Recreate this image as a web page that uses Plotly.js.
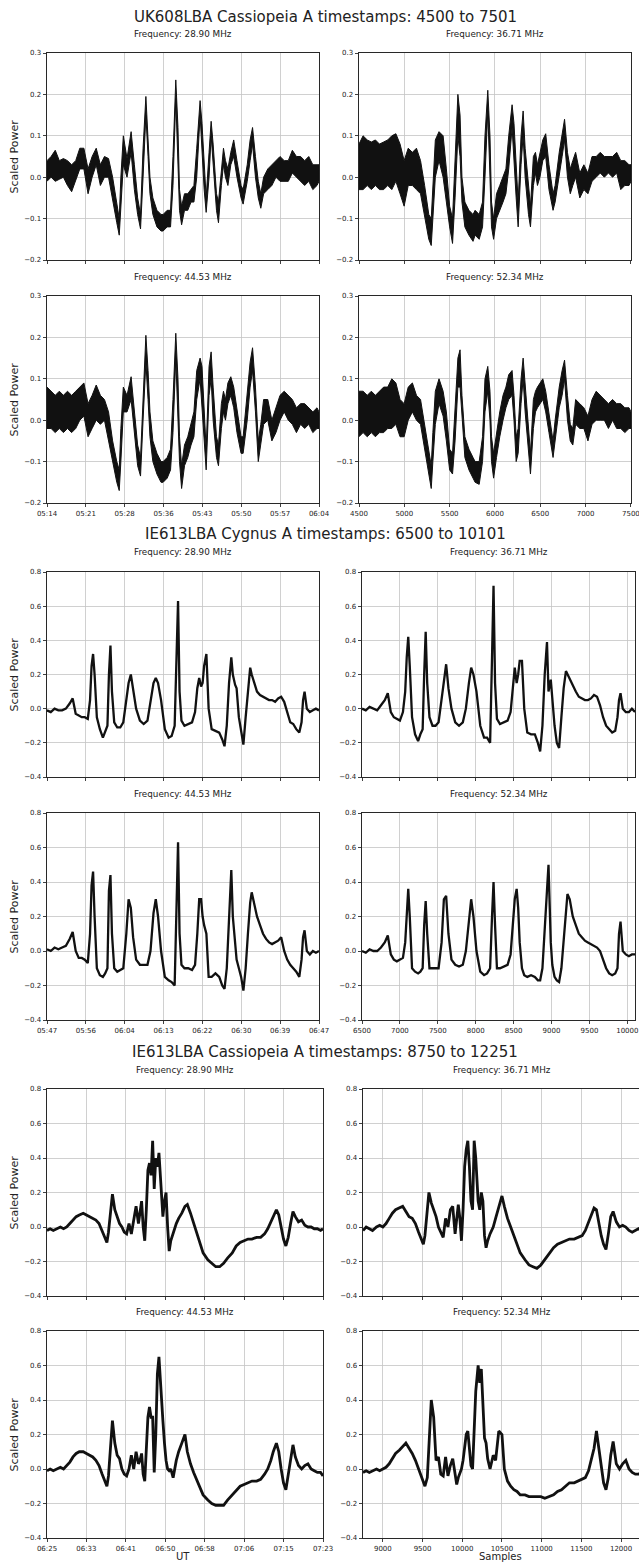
<!DOCTYPE html>
<html><head><meta charset="utf-8">
<script src="https://cdn.plot.ly/plotly-3.0.1.min.js"></script>
<style>html,body{margin:0;padding:0;background:#fff;}#chart{width:639px;height:1562px;}</style>
</head><body><div id="chart"></div>
<script>
// ---------------- DATA ----------------
// Group 1: UK608LBA Cassiopeia A, samples 4500..7501 (noise band: low / high envelope)
const g1_x = [
4500,4545,4591,4636,4681,4726,4772,4817,4862,4907,
4953,4998,5043,5089,5134,5179,5224,5270,5297,5315,
5342,5383,5428,5464,5500,5532,5560,5591,5615,5636,
5668,5713,5758,5781,5826,5863,5890,5921,5945,5962,
5985,6017,6053,6089,6121,6152,6189,6210,6234,6256,
6288,6311,6333,6370,6392,6424,6447,6469,6496,6528,
6560,6596,6641,6664,6709,6741,6768,6800,6831,6859,
6890,6936,6981,7026,7071,7117,7162,7207,7252,7298,
7343,7388,7433,7479,7501];
const g1_f2890_lo = [
-0.01,0,-0.01,-0.005,0,-0.02,-0.035,-0.01,0.02,0.02,
-0.04,0,0.03,-0.02,0,0,-0.05,-0.11,-0.14,-0.06,
0.03,0,0.06,-0.03,-0.09,-0.125,0,0.15,0.05,-0.04,
-0.09,-0.12,-0.13,-0.13,-0.12,-0.12,-0.02,0.19,0.05,-0.08,
-0.115,-0.08,-0.08,-0.06,-0.06,0,0.15,0.08,-0.03,-0.085,
0,0.1,0.02,-0.08,-0.11,-0.02,0.03,0,-0.02,0.03,
0.05,0,-0.05,-0.065,-0.01,0.04,0.08,0,-0.05,-0.075,
-0.04,-0.03,-0.02,0,-0.01,-0.01,-0.01,0.01,0,-0.01,
-0.02,-0.01,-0.03,-0.02,-0.01];
const g1_f2890_hi = [
0.04,0.05,0.065,0.04,0.045,0.04,0.03,0.04,0.07,0.07,
0.02,0.05,0.07,0.03,0.05,0.045,0,-0.07,-0.1,0,
0.1,0.045,0.11,0.03,-0.05,-0.09,0.07,0.195,0.1,0,
-0.05,-0.08,-0.09,-0.09,-0.08,-0.08,0.05,0.235,0.12,-0.03,
-0.07,-0.04,-0.04,-0.03,-0.02,0.07,0.185,0.13,0.02,-0.05,
0.06,0.135,0.08,-0.04,-0.06,0.02,0.07,0.04,0.02,0.06,
0.09,0.04,-0.02,-0.03,0.03,0.09,0.12,0.05,-0.01,-0.04,
0,0.02,0.03,0.04,0.05,0.04,0.04,0.065,0.05,0.05,
0.04,0.05,0.03,0.03,0.03];
const g1_f3671_lo = [
-0.03,-0.03,-0.02,-0.03,-0.02,-0.03,-0.03,-0.02,-0.03,-0.01,
-0.04,-0.07,-0.02,-0.02,-0.03,-0.04,-0.09,-0.15,-0.165,-0.1,
0,0.04,0,-0.06,-0.12,-0.16,-0.05,0.1,0.05,-0.06,
-0.12,-0.14,-0.155,-0.14,-0.15,-0.12,0,0.16,0,-0.12,
-0.15,-0.1,-0.08,-0.06,-0.04,0.02,0.12,0.06,-0.05,-0.12,
0.03,0.1,0,-0.09,-0.12,-0.02,0.01,-0.02,0,0.04,
0.05,-0.03,-0.08,-0.06,0,0.05,0.09,0,-0.04,-0.02,
0,-0.05,-0.03,-0.04,-0.01,0,0.01,0,0.01,0,
0.01,-0.03,-0.02,-0.02,-0.01];
const g1_f3671_hi = [
0.08,0.1,0.09,0.085,0.09,0.08,0.085,0.09,0.1,0.105,
0.08,0.04,0.07,0.06,0.07,0.04,-0.02,-0.09,-0.1,-0.03,
0.09,0.11,0.1,0.02,-0.07,-0.1,0.05,0.2,0.15,0,
-0.06,-0.08,-0.09,-0.08,-0.09,-0.06,0.1,0.21,0.1,-0.06,
-0.1,-0.04,-0.02,0,0.02,0.1,0.175,0.13,0.03,-0.06,
0.1,0.16,0.07,-0.03,-0.07,0.05,0.06,0.03,0.06,0.09,
0.105,0.03,-0.04,-0.02,0.06,0.11,0.14,0.06,0.02,0.04,
0.06,0.01,0.03,0.01,0.05,0.05,0.06,0.05,0.05,0.05,
0.06,0.04,0.04,0.03,0.03];
const g1_f4453_lo = [
-0.02,-0.02,-0.03,-0.02,-0.03,-0.02,-0.03,-0.02,0,0.01,
-0.04,-0.02,0,-0.01,0,-0.05,-0.1,-0.15,-0.17,-0.1,
0.02,0.02,0.05,-0.03,-0.11,-0.135,0,0.14,0.05,-0.04,
-0.1,-0.13,-0.15,-0.15,-0.14,-0.12,-0.03,0.15,0,-0.1,
-0.165,-0.11,-0.09,-0.06,-0.04,0.05,0.1,0.05,-0.05,-0.12,
0.06,0.1,0,-0.09,-0.11,-0.02,0.02,0,0.04,0.06,
0.03,-0.03,-0.08,-0.08,0,0.08,0.12,0.02,-0.1,-0.06,
-0.01,0,-0.05,-0.03,0,0.02,0,-0.01,-0.03,-0.01,
-0.02,-0.01,-0.03,-0.02,-0.02];
const g1_f4453_hi = [
0.08,0.07,0.06,0.07,0.06,0.07,0.06,0.07,0.08,0.09,
0.04,0.06,0.085,0.06,0.05,0.02,-0.05,-0.1,-0.12,-0.02,
0.08,0.06,0.105,0.03,-0.06,-0.09,0.07,0.205,0.12,0.02,
-0.05,-0.08,-0.1,-0.1,-0.09,-0.07,0.05,0.21,0.1,-0.04,
-0.11,-0.06,-0.04,-0.01,0.02,0.12,0.15,0.13,0.03,-0.07,
0.13,0.165,0.08,-0.04,-0.06,0.04,0.07,0.05,0.09,0.105,
0.08,0.03,-0.04,-0.04,0.07,0.14,0.175,0.08,-0.05,-0.01,
0.05,0.05,0,0.03,0.06,0.07,0.06,0.05,0.03,0.04,
0.04,0.03,0.02,0.03,0.02];
const g1_f5234_lo = [
-0.04,-0.03,-0.04,-0.03,-0.04,-0.03,-0.03,-0.02,-0.02,-0.01,
-0.04,-0.04,0,0.02,0,-0.01,-0.07,-0.13,-0.165,-0.1,
-0.01,0.04,0.01,-0.05,-0.12,-0.13,-0.05,0.08,0.08,0,
-0.09,-0.12,-0.14,-0.15,-0.155,-0.1,0.02,0.07,0,-0.1,
-0.14,-0.09,-0.04,0,0.03,0.05,0.06,0,-0.1,-0.08,
0.04,0.1,0.02,-0.08,-0.13,-0.02,0.02,0.03,0.04,0.05,
0.02,-0.03,-0.09,-0.05,0.03,0.06,0.1,0,-0.05,-0.06,
-0.01,-0.02,-0.02,-0.05,-0.01,0,0,0,-0.02,0,
-0.02,-0.02,-0.03,-0.02,-0.02];
const g1_f5234_hi = [
0.07,0.07,0.06,0.07,0.06,0.07,0.08,0.08,0.1,0.09,
0.05,0.04,0.08,0.09,0.06,0.05,-0.01,-0.07,-0.11,-0.03,
0.07,0.1,0.07,0.02,-0.07,-0.08,0.03,0.15,0.17,0.06,
-0.04,-0.07,-0.09,-0.1,-0.1,-0.04,0.1,0.13,0.07,-0.04,
-0.08,-0.03,0.02,0.06,0.08,0.11,0.12,0.06,-0.04,-0.02,
0.1,0.15,0.09,-0.02,-0.08,0.05,0.07,0.08,0.09,0.1,
0.07,0.02,-0.05,0,0.08,0.12,0.145,0.06,-0.01,-0.02,
0.05,0.04,0.03,0.01,0.05,0.07,0.06,0.05,0.04,0.05,
0.04,0.04,0.03,0.03,0.02];

// Group 2: IE613LBA Cygnus A, samples 6500..10101
const g2_x = [
6500,6550,6600,6650,6700,6750,6800,6840,6880,6920,
6960,7000,7040,7070,7090,7110,7130,7160,7200,7240,
7270,7300,7320,7340,7360,7390,7430,7470,7510,7550,
7580,7610,7640,7680,7730,7780,7830,7870,7910,7940,
7970,8010,8060,8110,8150,8190,8215,8235,8255,8280,
8320,8370,8420,8460,8490,8515,8540,8560,8580,8610,
8640,8680,8730,8780,8820,8850,8880,8910,8940,8960,
8990,9010,9040,9070,9100,9130,9160,9190,9210,9240,
9280,9320,9360,9400,9440,9480,9520,9560,9600,9640,
9680,9720,9760,9800,9840,9870,9890,9910,9940,9980,
10020,10060,10101];
const g2_f2890 = [
-0.01,-0.02,0,-0.01,-0.01,0,0.03,0.06,-0.03,-0.04,
-0.05,-0.05,-0.06,0.05,0.25,0.32,0.2,-0.05,-0.12,-0.17,
-0.13,-0.1,0.2,0.37,0.1,-0.08,-0.11,-0.11,-0.08,0.05,
0.15,0.2,0.1,0,-0.07,-0.09,-0.07,0.03,0.15,0.18,
0.15,0.05,-0.12,-0.17,-0.16,-0.1,0.35,0.63,0.1,-0.07,
-0.1,-0.09,-0.08,-0.02,0.12,0.18,0.13,0.15,0.25,0.32,
0,-0.12,-0.13,-0.14,-0.18,-0.22,-0.1,0.15,0.3,0.2,
0.14,0.12,-0.05,-0.12,-0.21,-0.05,0.1,0.24,0.2,0.15,
0.1,0.08,0.07,0.06,0.05,0.05,0.04,0.06,0.07,0.04,
-0.02,-0.08,-0.09,-0.12,-0.14,-0.08,0.05,0.1,0,-0.02,
-0.01,0,-0.01];
const g2_f3671 = [
0,-0.01,0.01,0,-0.01,0.02,0.05,0.09,-0.02,-0.05,
-0.06,-0.07,-0.02,0.1,0.3,0.42,0.25,-0.05,-0.15,-0.19,
-0.15,-0.12,0.2,0.45,0.15,-0.05,-0.1,-0.1,-0.08,0.05,
0.18,0.26,0.12,0,-0.08,-0.1,-0.08,0,0.15,0.24,
0.2,0.1,-0.1,-0.17,-0.17,-0.2,0.3,0.72,0.15,-0.06,
-0.09,-0.08,-0.07,-0.02,0.12,0.24,0.15,0.2,0.28,0.28,
0,-0.14,-0.15,-0.15,-0.2,-0.25,-0.1,0.2,0.39,0.1,
0.17,0.05,-0.1,-0.2,-0.23,-0.05,0.12,0.22,0.2,0.18,
0.13,0.1,0.07,0.06,0.05,0.05,0.06,0.08,0.07,0.02,
-0.05,-0.1,-0.12,-0.14,-0.13,-0.05,0.05,0.09,0,-0.02,
-0.02,0,-0.02];
const g2_f4453 = [
0.01,0,0.02,0.01,0.02,0.03,0.07,0.11,0,-0.04,
-0.04,-0.05,-0.07,0.1,0.38,0.46,0.2,-0.1,-0.14,-0.15,
-0.13,-0.1,0.35,0.44,0.1,-0.1,-0.12,-0.11,-0.1,0.1,
0.3,0.25,0.08,-0.05,-0.08,-0.08,-0.08,0,0.22,0.3,
0.2,0,-0.15,-0.17,-0.18,-0.2,0.3,0.63,0.1,-0.08,
-0.1,-0.1,-0.11,-0.08,0.1,0.3,0.3,0.2,0.15,0.1,
-0.15,-0.15,-0.13,-0.15,-0.2,-0.22,-0.1,0.2,0.47,0.2,
0.05,-0.05,-0.1,-0.15,-0.23,-0.1,0.1,0.28,0.34,0.28,
0.2,0.15,0.1,0.07,0.05,0.04,0.05,0.06,0.08,0,
-0.05,-0.08,-0.1,-0.12,-0.15,-0.05,0.08,0.12,0,-0.02,
0,-0.01,0];
const g2_f5234 = [
0,-0.01,0.01,0,0,0.02,0.05,0.09,-0.02,-0.05,
-0.06,-0.05,-0.04,0.05,0.25,0.36,0.2,-0.1,-0.12,-0.13,
-0.12,-0.1,0.15,0.29,0.1,-0.1,-0.1,-0.1,-0.1,0.05,
0.3,0.32,0.1,-0.05,-0.08,-0.09,-0.08,0,0.2,0.3,
0.2,0,-0.12,-0.14,-0.13,-0.1,0.2,0.4,0.15,-0.1,
-0.1,-0.09,-0.08,-0.02,0.15,0.3,0.36,0.25,0.05,-0.1,
-0.14,-0.15,-0.14,-0.15,-0.17,-0.17,-0.1,0.1,0.35,0.5,
0.05,-0.08,-0.15,-0.17,-0.18,-0.1,0.05,0.25,0.33,0.3,
0.2,0.15,0.1,0.08,0.06,0.05,0.04,0.03,0.02,0,
-0.05,-0.1,-0.13,-0.14,-0.13,-0.1,0.1,0.17,0,-0.02,
-0.03,-0.02,-0.02];

// Group 3: IE613LBA Cassiopeia A, samples 8750..12251
const g3_x = [
8750,8790,8830,8870,8920,8960,9000,9040,9080,9120,
9160,9210,9250,9290,9330,9370,9410,9450,9480,9510,
9530,9560,9580,9610,9640,9670,9700,9730,9760,9790,
9820,9850,9880,9910,9930,9950,9970,9990,10010,10030,
10050,10070,10090,10110,10130,10150,10170,10200,10220,10240,
10260,10280,10300,10320,10350,10390,10420,10460,10500,10530,
10570,10610,10650,10690,10730,10790,10840,10890,10940,10990,
11040,11100,11150,11200,11250,11300,11350,11410,11460,11510,
11550,11590,11620,11660,11690,11720,11750,11780,11810,11840,
11870,11900,11940,11980,12020,12060,12100,12140,12180,12220,
12251];
const g3_f2890 = [
-0.02,-0.01,-0.02,-0.01,0,-0.01,0,0.02,0.04,0.06,
0.07,0.08,0.07,0.06,0.05,0.04,0.02,-0.02,-0.05,-0.09,
-0.03,0.1,0.19,0.1,0.06,0.02,0,-0.03,-0.04,0.02,
-0.04,0.05,0.12,0.02,0.08,0.15,0,-0.08,0.1,0.33,
0.37,0.3,0.5,0.22,0.4,0.35,0.43,0.2,0.06,0.15,
0.2,0,-0.14,-0.08,-0.03,0.02,0.05,0.08,0.12,0.13,
0.08,0.02,-0.04,-0.1,-0.15,-0.19,-0.21,-0.23,-0.23,-0.21,
-0.18,-0.15,-0.11,-0.09,-0.08,-0.07,-0.07,-0.06,-0.06,-0.04,
-0.01,0.03,0.07,0.1,0.07,0,-0.07,-0.11,-0.06,0.02,
0.09,0.06,0.03,0.04,0.01,0,0,-0.01,-0.01,-0.02,
-0.01];
const g3_f3671 = [
-0.02,0,-0.01,-0.02,0,0.01,0,0.02,0.05,0.08,
0.1,0.11,0.12,0.09,0.06,0.05,0.02,-0.03,-0.06,-0.1,
-0.05,0.1,0.2,0.14,0.1,0.06,0,-0.03,-0.06,0.05,
0,0.1,0.12,-0.04,0.05,0.13,0.05,-0.08,0.1,0.35,
0.45,0.5,0.35,0.15,0.1,0.5,0.4,0.15,0.1,0.2,
0.15,-0.05,-0.12,-0.08,-0.04,0,0.05,0.12,0.18,0.12,
0.05,0,-0.05,-0.1,-0.15,-0.19,-0.22,-0.23,-0.24,-0.22,
-0.19,-0.15,-0.12,-0.1,-0.09,-0.08,-0.07,-0.07,-0.06,-0.05,
-0.02,0.03,0.07,0.11,0.1,0.02,-0.05,-0.1,-0.13,-0.04,
0.06,0.09,0.03,0,0.01,0,-0.02,-0.03,-0.02,-0.01,
-0.02];
const g3_f4453 = [
-0.01,0,-0.01,0,0.01,0,0.02,0.04,0.07,0.09,
0.1,0.1,0.09,0.08,0.07,0.05,0.02,-0.03,-0.07,-0.1,
-0.04,0.15,0.28,0.15,0.08,0.06,0,-0.03,-0.04,0,
0.08,0,0.1,0.03,0.05,0.09,-0.03,-0.07,0.15,0.3,
0.36,0.3,0.3,-0.02,0.2,0.55,0.65,0.4,0.28,0.15,
0.05,0,-0.01,0,-0.05,0.05,0.1,0.15,0.2,0.1,
0.03,-0.02,-0.06,-0.1,-0.15,-0.18,-0.2,-0.21,-0.21,-0.21,
-0.18,-0.15,-0.12,-0.1,-0.09,-0.08,-0.07,-0.07,-0.06,-0.03,
0,0.05,0.1,0.15,0.1,0,-0.08,-0.12,-0.04,0.05,
0.14,0.07,0.02,0,0.02,0.03,0,-0.01,-0.02,-0.02,
-0.04];
const g3_f5234 = [
-0.02,-0.01,-0.02,-0.01,0,-0.01,0,0.01,0.03,0.06,
0.09,0.11,0.13,0.15,0.12,0.09,0.05,0,-0.04,-0.08,
-0.1,-0.05,0.15,0.4,0.3,0.05,0.07,-0.03,-0.04,0.07,
-0.04,0.02,0.06,-0.04,-0.09,-0.05,-0.03,0,0.05,0.14,
0.2,0.22,0.12,0.02,0,0.2,0.45,0.6,0.5,0.58,
0.35,0.18,0.15,0.06,0,0.08,0.05,0.22,0.2,0,
-0.07,-0.1,-0.12,-0.13,-0.15,-0.15,-0.16,-0.16,-0.16,-0.16,
-0.17,-0.16,-0.15,-0.13,-0.12,-0.1,-0.08,-0.08,-0.07,-0.06,
-0.05,-0.01,0.05,0.12,0.22,0.12,0,-0.08,-0.12,-0.05,
0.08,0.16,0.03,0,0.03,0.05,0,-0.02,-0.03,-0.03,
-0.02];

// Tick labels
const g1_timeLabels = ['05:14','05:21','05:28','05:36','05:43','05:50','05:57','06:04'];
const g2_timeLabels = ['05:47','05:56','06:04','06:13','06:22','06:30','06:39','06:47'];
const g3_timeLabels = ['06:25','06:33','06:41','06:50','06:58','07:06','07:15','07:23'];
const g1_sampleTicks = [4500,5000,5500,6000,6500,7000,7500];
const g2_sampleTicks = [6500,7000,7500,8000,8500,9000,9500,10000];
const g3_sampleTicks = [9000,9500,10000,10500,11000,11500,12000];
const g1_yTicks = [-0.2,-0.1,0.0,0.1,0.2,0.3];
const g23_yTicks = [-0.4,-0.2,0.0,0.2,0.4,0.6,0.8];
const freqLabels = ['Frequency: 28.90 MHz','Frequency: 36.71 MHz','Frequency: 44.53 MHz','Frequency: 52.34 MHz'];
const titles = ['UK608LBA Cassiopeia A timestamps: 4500 to 7501',
                'IE613LBA Cygnus A timestamps: 6500 to 10101',
                'IE613LBA Cassiopeia A timestamps: 8750 to 12251'];

// ---------------- LAYOUT ----------------
const W=639,H=1562;
const FONT='DejaVu Sans, Verdana, sans-serif';
const INK='#111';
const GRID='#c4c4c4';

const groups = [
 {title:titles[0], xr:[4500,7501], yr:[-0.2,0.3], yt:g1_yTicks, tl:g1_timeLabels, st:g1_sampleTicks,
  L:[47,319], R:[359,631], rows:[[53,260],[296,503]], tY:17, sY:[34,277], band:true,
  x:g1_x, series:[[g1_f2890_lo,g1_f2890_hi],[g1_f3671_lo,g1_f3671_hi],[g1_f4453_lo,g1_f4453_hi],[g1_f5234_lo,g1_f5234_hi]], lw:1},
 {title:titles[1], xr:[6500,10101], yr:[-0.4,0.8], yt:g23_yTicks, tl:g2_timeLabels, st:g2_sampleTicks,
  L:[47,319], R:[362,635], rows:[[572,777],[813,1020]], tY:534, sY:[552,794], band:false,
  x:g2_x, series:[g2_f2890,g2_f3671,g2_f4453,g2_f5234], lw:2.3},
 {title:titles[2], xr:[8750,12251], yr:[-0.4,0.8], yt:g23_yTicks, tl:g3_timeLabels, st:g3_sampleTicks,
  L:[47,323], R:[363,641], rows:[[1089,1296],[1331,1538]], tY:1052, sY:[1070,1312], band:false,
  x:g3_x, series:[g3_f2890,g3_f3671,g3_f4453,g3_f5234], lw:2.8}
];

function fmtY(v){ return v<0 ? '\u2212'+Math.abs(v).toFixed(1) : v.toFixed(1); }
function linspace(a,b,n){ const o=[]; for(let i=0;i<n;i++) o.push(a+(b-a)*i/(n-1)); return o; }
const px=(v)=>v/W, py=(v)=>1-v/H;

const traces=[], layout={
  width:W, height:H, margin:{l:0,r:0,t:0,b:0}, showlegend:false,
  paper_bgcolor:'#fff', plot_bgcolor:'#fff', annotations:[],
  font:{family:FONT,color:'#222'}
};
const ann=layout.annotations;

let k=0;
groups.forEach((g,gi)=>{
  ann.push({text:g.title, x:px(325), y:py(g.tY), xref:'paper', yref:'paper', showarrow:false,
            xanchor:'center', yanchor:'middle', font:{family:FONT,size:15,color:'#222'}});
  for(let r=0;r<2;r++){
    for(let c=0;c<2;c++){
      k++;
      const si=r*2+c;
      const xs = c===0 ? g.L : g.R;
      const xd=[px(xs[0]), Math.min(1,px(xs[1]))];
      const yd=[py(g.rows[r][1]), py(g.rows[r][0])];
      const clipped = xs[1]>W;
      let xr=g.xr.slice();
      if(clipped){ xr[1]=g.xr[0]+(g.xr[1]-g.xr[0])*(W-xs[0])/(xs[1]-xs[0]); }
      const tv = c===0 ? linspace(g.xr[0],g.xr[1],8) : g.st;
      const tt = c===0 ? g.tl : g.st.map(String);
      layout['xaxis'+k]={domain:xd, range:xr, anchor:'y'+k, showgrid:true, gridcolor:GRID, gridwidth:0.8,
        zeroline:false, showline:true, linecolor:INK, linewidth:0.9, mirror:true,
        ticks:'outside', ticklen:3.5, tickwidth:0.8, tickcolor:INK, ticklabeloverflow:'allow',
        tickmode:'array', tickvals:tv, ticktext:tt, showticklabels:r===1,
        tickfont:{family:FONT,size:7,color:'#222'}, fixedrange:true};
      layout['yaxis'+k]={domain:yd, range:g.yr, anchor:'x'+k, showgrid:true, gridcolor:GRID, gridwidth:0.8,
        zeroline:false, showline:true, linecolor:INK, linewidth:0.9, mirror:!clipped,
        ticks:'outside', ticklen:3.5, tickwidth:0.8, tickcolor:INK, ticklabeloverflow:'allow',
        tickmode:'array', tickvals:g.yt, ticktext:g.yt.map(fmtY),
        tickfont:{family:FONT,size:7,color:'#222'}, fixedrange:true};
      // subplot title
      const cx = (xs[0]+xs[1])/2;
      ann.push({text:freqLabels[si], x:px(cx), y:py(g.sY[r]), xref:'paper', yref:'paper', showarrow:false,
                xanchor:'center', yanchor:'middle', font:{family:FONT,size:8.8,color:'#222'}});
      if(c===0){
        ann.push({text:'Scaled Power', x:px(14), y:py((g.rows[r][0]+g.rows[r][1])/2), xref:'paper', yref:'paper',
                  showarrow:false, textangle:-90, xanchor:'center', yanchor:'middle',
                  font:{family:FONT,size:11,color:'#222'}});
      }
      // data
      if(g.band){
        const lo=g.series[si][0], hi=g.series[si][1];
        traces.push({type:'scatter', mode:'lines', xaxis:'x'+k, yaxis:'y'+k,
          x:g.x.concat(g.x.slice().reverse()), y:hi.concat(lo.slice().reverse()),
          fill:'toself', fillcolor:INK, line:{color:INK,width:g.lw}, hoverinfo:'skip'});
      } else {
        traces.push({type:'scatter', mode:'lines', xaxis:'x'+k, yaxis:'y'+k,
          x:g.x, y:g.series[si], line:{color:INK,width:g.lw}, hoverinfo:'skip'});
      }
    }
  }
});
ann.push({text:'UT', x:px(183), y:py(1556), xref:'paper', yref:'paper', showarrow:false,
          xanchor:'center', yanchor:'middle', font:{family:FONT,size:10,color:'#222'}});
ann.push({text:'Samples', x:px(500), y:py(1556), xref:'paper', yref:'paper', showarrow:false,
          xanchor:'center', yanchor:'middle', font:{family:FONT,size:10,color:'#222'}});

Plotly.newPlot('chart', traces, layout, {staticPlot:true, displayModeBar:false});
</script>
</body></html>
